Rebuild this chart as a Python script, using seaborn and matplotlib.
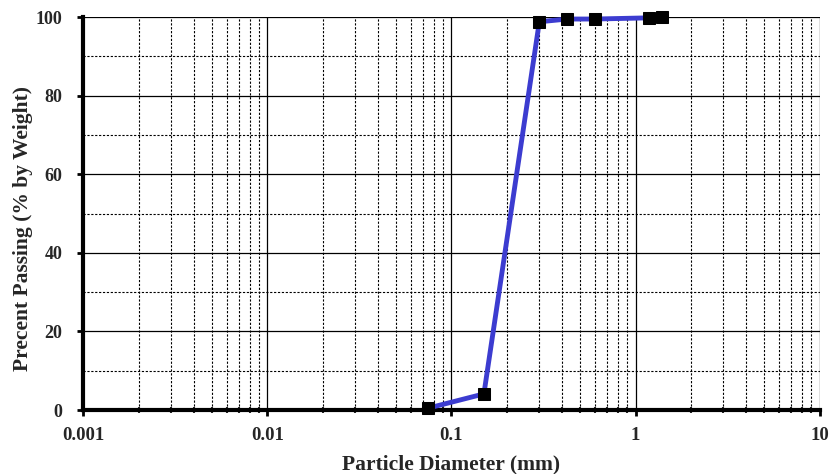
import numpy as np
import seaborn as sns
import matplotlib.pyplot as plt
from matplotlib.ticker import LogLocator, FixedLocator, NullFormatter

# Sieve analysis data
diameter_mm = [0.075, 0.15, 0.3, 0.425, 0.6, 1.18, 1.4]
percent_passing = [0.5, 4.1, 98.8, 99.5, 99.5, 99.8, 100.0]

x_ticks = [0.001, 0.01, 0.1, 1, 10]
x_tick_labels = ['0.001', '0.01', '0.1', '1', '10']
y_ticks = [0, 20, 40, 60, 80, 100]

sns.set_style("white")
plt.rcParams['font.family'] = ['Liberation Serif', 'DejaVu Serif']
plt.rcParams['font.weight'] = 'bold'

fig, ax = plt.subplots(figsize=(8.33, 4.74), dpi=100)
fig.subplots_adjust(left=0.1, right=0.984, top=0.964, bottom=0.135)

sns.lineplot(x=diameter_mm, y=percent_passing, ax=ax, color='#3c3cd0', linewidth=3.5,
             marker='s', markersize=8, markerfacecolor='black', markeredgecolor='black',
             zorder=5, clip_on=False)

ax.set_xscale('log')
ax.set_xlim(0.001, 10)
ax.set_ylim(0, 100)

ax.xaxis.set_major_locator(FixedLocator(x_ticks))
ax.set_xticklabels(x_tick_labels)
ax.xaxis.set_minor_locator(LogLocator(base=10, subs=np.arange(2, 10)))
ax.xaxis.set_minor_formatter(NullFormatter())
ax.yaxis.set_major_locator(FixedLocator(y_ticks))
ax.yaxis.set_minor_locator(FixedLocator([10, 30, 50, 70, 90]))

# Grid: solid majors, dashed minors
ax.grid(which='major', color='black', linestyle='-', linewidth=0.9)
ax.grid(which='minor', color='black', linestyle=(0, (2, 1.5)), linewidth=0.8)
ax.set_axisbelow(True)

for side in ['top', 'right']:
    ax.spines[side].set_visible(False)
for side in ['left', 'bottom']:
    ax.spines[side].set_linewidth(3)
    ax.spines[side].set_color('black')

ax.tick_params(axis='both', which='major', direction='out', length=4, width=2,
               labelsize=13.5, color='black', left=True, bottom=True, pad=8)
ax.tick_params(axis='y', which='major', labelsize=13, pad=11)
ax.tick_params(axis='x', which='minor', direction='inout', length=4, width=1.5, bottom=True)
ax.tick_params(axis='y', which='minor', length=0)
for lbl in ax.get_xticklabels() + ax.get_yticklabels():
    lbl.set_fontweight('bold')

ax.set_xlabel('Particle Diameter (mm)', fontsize=15.5, fontweight='bold', labelpad=8)
ax.set_ylabel('Precent Passing (% by Weight)', fontsize=15.5, fontweight='bold', labelpad=2)
ax.yaxis.label.set_y(0.463)

fig.savefig('out.png', dpi=100)
